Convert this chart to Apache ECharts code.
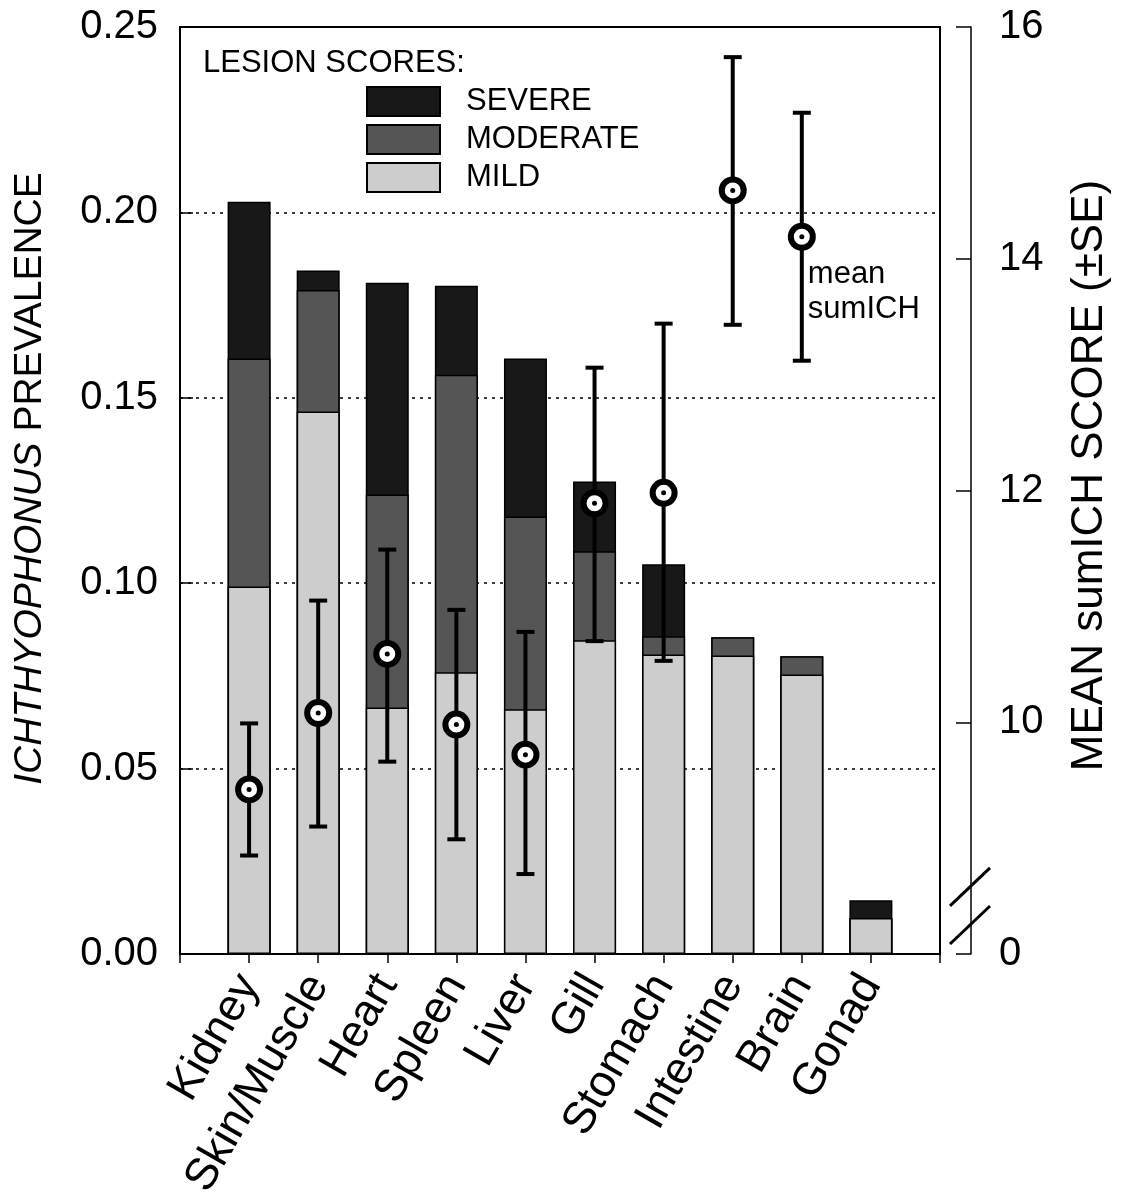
<!DOCTYPE html>
<html>
<head>
<meta charset="utf-8">
<title>Ichthyophonus prevalence by organ</title>
<script src="https://cdn.jsdelivr.net/npm/echarts@6/dist/echarts.min.js"></script>
<style>
	html, body { margin: 0; padding: 0; background: #fff; }
	#chart { width: 1124px; height: 1198px; }
</style>
</head>
<body>
	<div id="chart"></div>
	<script>
		// organs along the x axis
		var organs = ['Kidney', 'Skin/Muscle', 'Heart', 'Spleen', 'Liver', 'Gill', 'Stomach', 'Intestine', 'Brain', 'Gonad'];
		// prevalence of each lesion score (segment heights, left axis)
		var mild     = [0.0991, 0.1463, 0.0665, 0.0760, 0.0660, 0.0846, 0.0808, 0.0805, 0.0754, 0.0097];
		var moderate = [0.0615, 0.0328, 0.0574, 0.0802, 0.0520, 0.0240, 0.0049, 0.0049, 0.0049, 0.0000];
		var severe   = [0.0423, 0.0052, 0.0571, 0.0240, 0.0426, 0.0188, 0.0194, 0.0000, 0.0000, 0.0048];
		// mean sumICH score and its +-SE ends (right axis), Gonad has none
		var meanScore = [9.42, 10.08, 10.59, 9.98, 9.72, 11.89, 11.98, 14.59, 14.19, null];
		var seLow     = [8.85, 9.10, 9.66, 8.99, 8.69, 10.70, 10.53, 13.43, 13.12, null];
		var seHigh    = [9.99, 11.05, 11.49, 10.97, 10.78, 13.06, 13.44, 15.74, 15.26, null];
		// right axis: 8 stands for the broken-off 0
		var rightTicks = {8: '0', 10: '10', 12: '12', 14: '14', 16: '16'};

		var FONT = 'Liberation Sans, Arial, sans-serif';

		// bars are overlapped (barGap -100%), so each series goes up to its cumulative top
		var mildTop = [], modTop = [], sevTop = [];
		var pts = [], errs = [];
		for (var i = 0; i < organs.length; i++) {
			mildTop.push([i, mild[i]]);
			modTop.push([i, mild[i] + moderate[i]]);
			sevTop.push([i, mild[i] + moderate[i] + severe[i]]);
			if (meanScore[i] != null) {
				pts.push([i, meanScore[i]]);
				errs.push([i, seLow[i], seHigh[i]]);
			}
		}

		var chart = echarts.init(document.getElementById('chart'));

		var barBase = {
			type: 'bar',
			barWidth: 43,
			barGap: '-100%',
			xAxisIndex: 0,
			yAxisIndex: 0
		};

		var option = {
			animation: false,
			backgroundColor: '#fff',
			textStyle: { fontFamily: FONT, color: '#000' },
			title: {
				text: 'LESION SCORES:',
				left: 203,
				top: 48,
				padding: 0,
				textStyle: { fontFamily: FONT, fontSize: 31, fontWeight: 'normal', color: '#000' }
			},
			legend: {
				orient: 'vertical',
				left: 366,
				top: 86,
				padding: 0,
				itemWidth: 73,
				itemHeight: 29,
				itemGap: 7,
				icon: 'rect',
				selectedMode: false,
				data: ['SEVERE', 'MODERATE', 'MILD'],
				textStyle: { fontFamily: FONT, fontSize: 31, color: '#000', padding: [0, 0, 0, 21] }
			},
			grid: {
				left: 180,
				right: 184,
				top: 27,
				bottom: 244,
				outerBoundsMode: 'none',
				show: true,
				borderColor: '#000',
				borderWidth: 2
			},
			xAxis: {
				type: 'value',
				min: -1,
				max: 10,
				interval: 1,
				axisLine: { onZero: false, lineStyle: { color: '#000', width: 1.5 } },
				axisTick: { show: true, length: 9, lineStyle: { color: '#000', width: 1.5 } },
				splitLine: { show: false },
				axisLabel: {
					rotate: 60,
					margin: 24,
					fontSize: 45,
					fontFamily: FONT,
					color: '#000',
					formatter: function (v) { return organs[v] || ''; }
				}
			},
			yAxis: [{
				type: 'value',
				min: 0,
				max: 0.25,
				interval: 0.05,
				name: '{it|ICHTHYOPHONUS} PREVALENCE',
				nameLocation: 'middle',
				nameRotate: 90,
				nameGap: 130,
				nameTextStyle: {
					fontFamily: FONT, fontSize: 39, color: '#000',
					padding: [0, 0, 0, 24],
					rich: { it: { fontFamily: FONT, fontSize: 39, fontStyle: 'italic', color: '#000' } }
				},
				axisLine: { show: true, onZero: false, lineStyle: { color: '#000', width: 1.5 } },
				axisTick: { show: true, inside: true, length: 13, lineStyle: { color: '#000', width: 1.5 } },
				axisLabel: {
					margin: 22, fontSize: 40, fontFamily: FONT, color: '#000',
					formatter: function (v) { return v.toFixed(2); }
				},
				splitLine: {
					show: true, showMinLine: false, showMaxLine: false,
					lineStyle: { color: '#000', width: 1.5, type: [3, 5] }
				}
			}, {
				type: 'value',
				position: 'right',
				offset: 31,
				min: 8,
				max: 16,
				interval: 2,
				name: 'MEAN sumICH SCORE (\u00b1SE)',
				nameLocation: 'middle',
				nameRotate: 90,
				nameGap: 97,
				nameTextStyle: { fontFamily: FONT, fontSize: 44, color: '#000', padding: [0, 0, 0, 30] },
				axisLine: { show: true, onZero: false, lineStyle: { color: '#000', width: 1.5 } },
				axisTick: { show: true, inside: true, length: 15, lineStyle: { color: '#000', width: 1.5 } },
				axisLabel: {
					margin: 28, fontSize: 40, fontFamily: FONT, color: '#000',
					formatter: function (v) { return rightTicks[v] || ''; }
				},
				splitLine: { show: false }
			}],
			series: [
				echarts.util.merge({
					name: 'SEVERE',
					data: sevTop,
					itemStyle: { color: '#181818', borderColor: '#000', borderWidth: 1.5 }
				}, barBase),
				echarts.util.merge({
					name: 'MODERATE',
					data: modTop,
					itemStyle: { color: '#555555', borderColor: '#000', borderWidth: 1.5 }
				}, barBase),
				echarts.util.merge({
					name: 'MILD',
					data: mildTop,
					itemStyle: { color: '#cdcdcd', borderColor: '#000', borderWidth: 1.5 }
				}, barBase),
				{
					name: 'se',
					type: 'custom',
					xAxisIndex: 0,
					yAxisIndex: 1,
					z: 5,
					data: errs,
					renderItem: function (params, api) {
						var lo = api.coord([api.value(0), api.value(1)]);
						var hi = api.coord([api.value(0), api.value(2)]);
						var c = 9;
						var st = { stroke: '#000', lineWidth: 4 };
						return {
							type: 'group',
							children: [
								{ type: 'line', shape: { x1: lo[0], y1: lo[1], x2: hi[0], y2: hi[1] }, style: st },
								{ type: 'line', shape: { x1: hi[0] - c, y1: hi[1], x2: hi[0] + c, y2: hi[1] }, style: st },
								{ type: 'line', shape: { x1: lo[0] - c, y1: lo[1], x2: lo[0] + c, y2: lo[1] }, style: st }
							]
						};
					}
				},
				{
					name: 'mean',
					type: 'scatter',
					xAxisIndex: 0,
					yAxisIndex: 1,
					z: 6,
					symbol: 'circle',
					symbolSize: 22,
					itemStyle: { color: '#fff', borderColor: '#000', borderWidth: 6, opacity: 1 },
					data: pts.map(function (p) {
						if (organs[p[0]] !== 'Brain') return p;
						return {
							value: p,
							label: {
								show: true,
								position: 'inside',
								align: 'left',
								verticalAlign: 'top',
								offset: [6, 20],
								formatter: 'mean\nsumICH',
								fontFamily: FONT,
								fontSize: 31,
								lineHeight: 35,
								color: '#000'
							}
						};
					})
				},
				{
					name: 'meanDot',
					type: 'scatter',
					xAxisIndex: 0,
					yAxisIndex: 1,
					z: 7,
					symbol: 'circle',
					symbolSize: 5,
					itemStyle: { color: '#000', opacity: 1 },
					data: pts
				}
			]
		};
		chart.setOption(option);

		// axis break mark on the right axis (between 0 and 10)
		var axX = chart.convertToPixel({ xAxisIndex: 0 }, 10) + 31;
		var b1 = chart.convertToPixel({ yAxisIndex: 1 }, 8.58);
		var b2 = chart.convertToPixel({ yAxisIndex: 1 }, 8.25);
		var slash = function (cy) {
			return { type: 'line', shape: { x1: axX - 21, y1: cy + 19, x2: axX + 19, y2: cy - 19 },
				style: { stroke: '#000', lineWidth: 3 } };
		};
		chart.setOption({
			graphic: [{
				type: 'group',
				z: 100,
				children: [
					{ type: 'rect', shape: { x: axX - 4, y: b1, width: 8, height: b2 - b1 }, style: { fill: '#fff' } },
					slash(b1),
					slash(b2)
				]
			}]
		});
	</script>
</body>
</html>
